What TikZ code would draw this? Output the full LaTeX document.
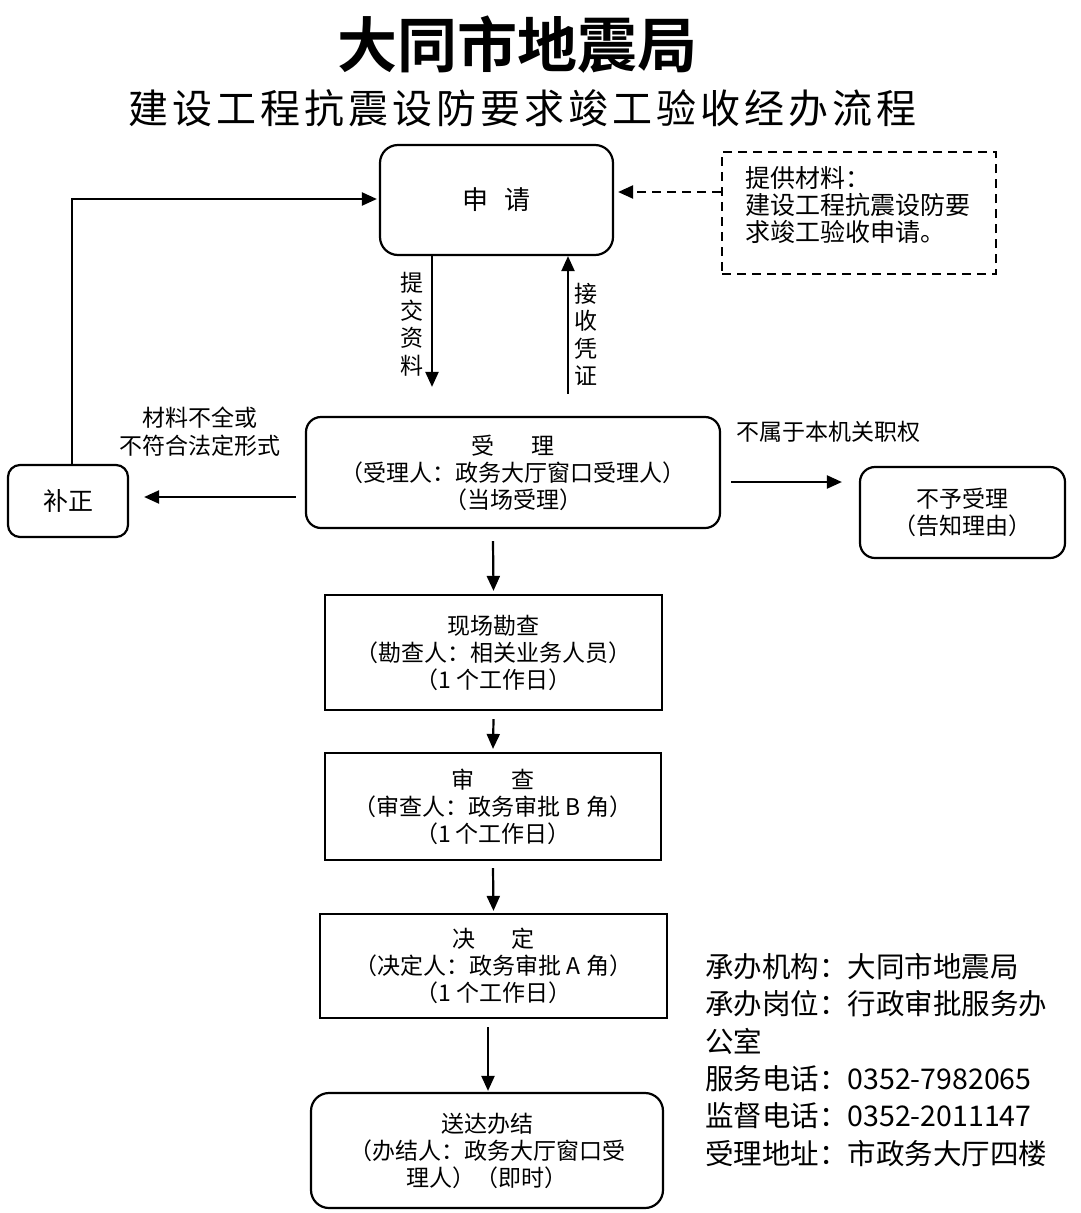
\documentclass[tikz,border=0pt]{standalone}
\usepackage{fontspec}
\usetikzlibrary{arrows.meta,calc}
\newfontfamily\cjk{Noto Sans CJK SC}[BoldFont={Noto Sans CJK SC Bold}]
\begin{document}
\begin{tikzpicture}[x=1pt,y=-1pt,
  boxtext/.style={font=\cjk\fontsize{23}{27}\selectfont, align=center},
  rbox/.style={draw, line width=2.2pt, rounded corners=15pt, inner sep=0pt, boxtext},
  sbox/.style={draw, line width=2.2pt, inner sep=0pt, boxtext},
  arr/.style={line width=2.2pt, -{Triangle[length=15pt,width=13pt]}},
  lbl/.style={font=\cjk\fontsize{23}{27}\selectfont, align=center, inner sep=0pt},
]
\fill[white] (0,0) rectangle (1080,1213);
\useasboundingbox (0,0) rectangle (1080,1213);

% titles
\node (title) at (517,45) {\cjk\bfseries\fontsize{60}{60}\selectfont 大同市地震局};
\node (subtitle) at (522,108) {\cjk\fontsize{40}{40}\selectfont\addfontfeatures{LetterSpace=10}建设工程抗震设防要求竣工验收经办流程};

% boxes
\node[rbox, rounded corners=18pt, minimum width=233pt, minimum height=110pt] (sq) at (496.5,200) {\fontsize{26}{30}\selectfont 申\hspace{0.6em}请};
\node[draw, dashed, line width=2pt, dash pattern=on 9pt off 6pt, minimum width=274pt, minimum height=122pt, inner sep=0pt] (note) at (859,213) {};
\node[anchor=west, align=left, inner sep=0pt, font=\cjk\fontsize{25}{27}\selectfont] (notetext) at (745,205) {提供材料：\\建设工程抗震设防要\\求竣工验收申请。};

\node[rbox, minimum width=414pt, minimum height=111pt] (sl) at (513,472.5) {受\hspace{1.6em}理\\（受理人：政务大厅窗口受理人）\\（当场受理）};
\node[rbox, rounded corners=12pt, minimum width=120pt, minimum height=72pt] (bz) at (68,501) {\fontsize{25}{27}\selectfont 补正};
\node[rbox, minimum width=205pt, minimum height=91pt] (by) at (962.5,512.5) {不予受理\\（告知理由）};

\node[sbox, minimum width=337pt, minimum height=115pt] (xc) at (493.5,652.5) {现场勘查\\（勘查人：相关业务人员）\\（1 个工作日）};
\node[sbox, minimum width=336pt, minimum height=107pt] (sc) at (493,806.5) {审\hspace{1.6em}查\\（审查人：政务审批 B 角）\\（1 个工作日）};
\node[sbox, minimum width=347pt, minimum height=104pt] (jd) at (493.5,966) {决\hspace{1.6em}定\\（决定人：政务审批 A 角）\\（1 个工作日）};
\node[rbox, rounded corners=18pt, minimum width=352pt, minimum height=115pt] (sd) at (487,1150.5) {送达办结\\（办结人：政务大厅窗口受\\理人）（即时）};

% labels
\node[lbl, font=\cjk\fontsize{23}{27.5}\selectfont] (l1) at (412,324.5) {提\\交\\资\\料};
\node[lbl, font=\cjk\fontsize{23}{27.5}\selectfont] (l2) at (586,334.5) {接\\收\\凭\\证};
\node[lbl, font=\cjk\fontsize{23}{28}\selectfont] (l3) at (200,432) {材料不全或\\不符合法定形式};
\node[lbl] (l4) at (828,432) {不属于本机关职权};

% info
\node[anchor=north west, align=left, inner sep=0pt, font=\cjk\fontsize{28.5}{37.4}\selectfont] (info) at (705,953) {承办机构：大同市地震局\\承办岗位：行政审批服务办\\公室\\服务电话：0352-7982065\\监督电话：0352-2011147\\受理地址：市政务大厅四楼};

% connectors
\draw[arr, dashed, dash pattern=on 9pt off 6pt] ([yshift=21pt]note.west) -- ([yshift=8pt,xshift=4pt]sq.east);
\draw[arr] ([xshift=-64.5pt]sq.south) -- ([xshift=-81pt,yshift=29pt]sl.north);
\draw[arr] ([xshift=55pt,yshift=22pt]sl.north) -- ([xshift=71.5pt]sq.south);
\draw[arr] ([xshift=4pt]bz.north) |- ([xshift=-2pt,yshift=1pt]sq.west);
\draw[arr] ([xshift=-9pt,yshift=-24.5pt]sl.west) -- ([xshift=15pt,yshift=-24.5pt]bz.east |- sl.west);
\draw[arr] ([xshift=10pt,yshift=-9.5pt]sl.east) -- ([xshift=-17pt,yshift=-9.5pt]by.west |- sl.east);
\draw[arr] ([xshift=-20pt,yshift=-12pt]sl.south) -- ([yshift=3pt]xc.north);
\draw[arr] ([yshift=-8pt]xc.south) -- ([yshift=3pt]sc.north);
\draw[arr] ([yshift=-7pt]sc.south) -- ([yshift=2pt]jd.north);
\draw[arr] ([xshift=-5.5pt,yshift=-8pt]jd.south) -- ([xshift=1pt,yshift=1pt]sd.north);
\end{tikzpicture}
\end{document}
